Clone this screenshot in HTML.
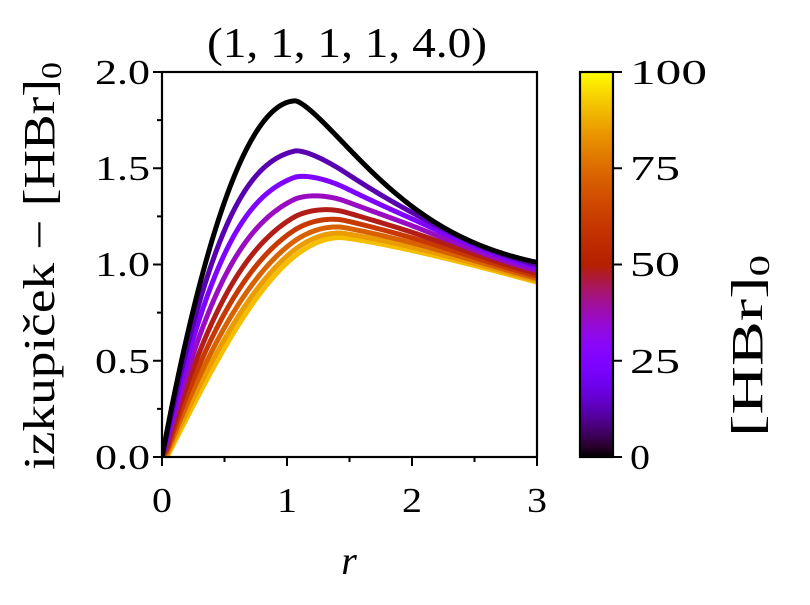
<!DOCTYPE html>
<html><head><meta charset="utf-8"><style>
body{margin:0;background:#fff}
text{font-family:"Liberation Serif","DejaVu Serif",serif;fill:#000}
</style></head><body>
<svg id="s" width="810" height="600" xmlns="http://www.w3.org/2000/svg">
<defs>
<linearGradient id="cb" x1="0" y1="1" x2="0" y2="0">
</linearGradient>
<clipPath id="ax"><rect x="162" y="60" width="375" height="397"/></clipPath>
</defs>
<rect x="580" y="72" width="33" height="385" fill="url(#cb)"/>
<g id="curves" clip-path="url(#ax)"></g>
<g id="ticks" stroke="#000" stroke-width="2"></g>
<rect x="162" y="72" width="375" height="385" fill="none" stroke="#000" stroke-width="2.2"/>
<rect x="580" y="72" width="33" height="385" fill="none" stroke="#000" stroke-width="2.2"/>
<g font-size="35">
<text x="162" y="512" text-anchor="middle" textLength="20" lengthAdjust="spacingAndGlyphs">0</text>
<text x="287" y="512" text-anchor="middle" textLength="20" lengthAdjust="spacingAndGlyphs">1</text>
<text x="412" y="512" text-anchor="middle" textLength="20" lengthAdjust="spacingAndGlyphs">2</text>
<text x="537" y="512" text-anchor="middle" textLength="20" lengthAdjust="spacingAndGlyphs">3</text>
<text x="95" y="469" textLength="55" lengthAdjust="spacingAndGlyphs">0.0</text>
<text x="95" y="373" textLength="55" lengthAdjust="spacingAndGlyphs">0.5</text>
<text x="95" y="276" textLength="55" lengthAdjust="spacingAndGlyphs">1.0</text>
<text x="95" y="180" textLength="55" lengthAdjust="spacingAndGlyphs">1.5</text>
<text x="95" y="84" textLength="55" lengthAdjust="spacingAndGlyphs">2.0</text>
<text x="630" y="469" textLength="20" lengthAdjust="spacingAndGlyphs">0</text>
<text x="630" y="373" textLength="50" lengthAdjust="spacingAndGlyphs">25</text>
<text x="630" y="276" textLength="50" lengthAdjust="spacingAndGlyphs">50</text>
<text x="630" y="180" textLength="50" lengthAdjust="spacingAndGlyphs">75</text>
<text x="630" y="84" textLength="77" lengthAdjust="spacingAndGlyphs">100</text>
<text x="207" y="57" font-size="42" textLength="280" lengthAdjust="spacingAndGlyphs">(1, 1, 1, 1, 4.0)</text>
<text x="349" y="574" text-anchor="middle" font-style="italic" font-size="40">r</text>
<text transform="translate(54,470) rotate(-90)" font-size="44" textLength="408" lengthAdjust="spacingAndGlyphs">izkupiček − [HBr]<tspan font-size="28" dy="7">0</tspan></text>
<text transform="translate(762,437) rotate(-90)" font-size="44" textLength="182" lengthAdjust="spacingAndGlyphs">[HBr]<tspan font-size="28" dy="7">0</tspan></text>
</g>
</svg>
<script>
function gp(x){var r=Math.sqrt(x),g=x*x*x,b=Math.max(0,Math.sin(2*Math.PI*x));
return 'rgb('+Math.round(255*r)+','+Math.round(255*g)+','+Math.round(255*b)+')';}
var NS="http://www.w3.org/2000/svg";
var grad=document.getElementById('cb');
for(var i=0;i<=40;i++){var st=document.createElementNS(NS,'stop');st.setAttribute('offset',i/40);st.setAttribute('stop-color',gp(i/40));grad.appendChild(st);}
var X=function(r){return 162+125*r},Y=function(v){return 457-192.5*v};
function B(r){var r0=1.07;
 if(r<r0){return 1.85*(1-Math.pow(1-r/r0,2.0));}
 return 0.93+0.92*Math.exp(-1.0*Math.pow(r-r0,1.35));}
function Yl(r){var s=0.04,r0=1.43;
 if(r<s)return 0;
 if(r<r0){return 1.14*Math.sin(Math.PI/2*(r-s)/(r0-s));}
 return 1.14-0.134*Math.pow(r-r0,1.22);}
var peaks=[1.85,1.62,1.50,1.40,1.32,1.26,1.21,1.17,1.14];
var cg=document.getElementById('curves');
function sm(t){t=Math.max(0,Math.min(1,t));return t*t*(3-2*t);}
for(var c=8;c>=0;c--){
 var w=(1.85-peaks[c])/0.71;
 var d='';
 for(var j=0;j<=300;j++){var r=3*j/300;
  var e=1+0.8*(1-sm(r/1.1));
  var we=(w>0&&w<1)?Math.pow(w,e):w;
  var v=(1-we)*B(r)+we*Yl(r);
  if(c>0&&c<8){v+=w*(1-w)*0.2*sm((r-1.1)/1.0)*(1-0.5*sm((r-2.1)/0.9));}
  d+=(j?'L':'M')+X(r).toFixed(2)+','+Y(v).toFixed(2);}
 var p=document.createElementNS(NS,'path');p.setAttribute('d',d);p.setAttribute('fill','none');
 p.setAttribute('stroke',c==8?'rgb(245,190,0)':gp(c/8*0.97));p.setAttribute('stroke-width','5');p.setAttribute('stroke-linejoin','round');cg.appendChild(p);
}
var tg=document.getElementById('ticks'),t='';
for(var i=0;i<=6;i++){var x=X(i*0.5);t+='M'+x+',457v'+(i%2?5:9);}
for(var i=0;i<=8;i++){var y=Y(i*0.25);t+='M162,'+y+'h-'+(i%2?5:9);}
for(var i=0;i<=4;i++){var y=457-96.25*i;t+='M613,'+y+'h9';}
var tp=document.createElementNS(NS,'path');tp.setAttribute('d',t);tg.appendChild(tp);
</script>
</body></html>
